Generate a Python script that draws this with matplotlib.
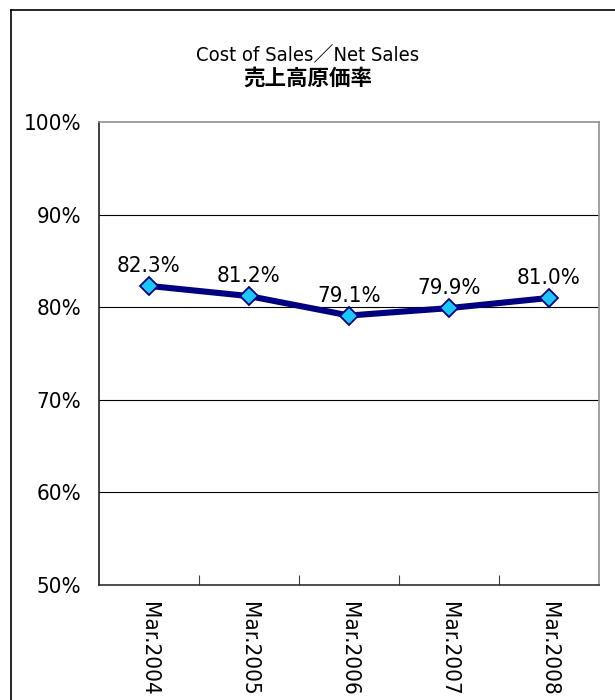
#!/usr/bin/env python3
"""
Cost of Sales / Net Sales ratio chart, Mar.2004 - Mar.2008.
"""

import matplotlib

matplotlib.use("Agg")
import matplotlib.pyplot as plt
from matplotlib.lines import Line2D

periods = ["Mar.2004", "Mar.2005", "Mar.2006", "Mar.2007", "Mar.2008"]
cost_ratio = [82.3, 81.2, 79.1, 79.9, 81.0]
y_ticks = [50, 60, 70, 80, 90, 100]

plt.rcParams["font.family"] = ["DejaVu Sans", "Noto Sans CJK JP"]
plt.rcParams["font.stretch"] = "condensed"


def main() -> None:
    fig = plt.figure(figsize=(6.15, 7.0), dpi=100)

    # outer chart frame
    fig.add_artist(Line2D([11 / 615, 11 / 615], [0, 1 - 10 / 700],
                          transform=fig.transFigure, color="black", lw=1.2))
    fig.add_artist(Line2D([11 / 615, 1], [1 - 10 / 700, 1 - 10 / 700],
                          transform=fig.transFigure, color="black", lw=1.2))

    ax = fig.add_axes([99 / 615, 1 - 585 / 700, 500 / 615, 463 / 700])
    x = list(range(len(periods)))

    ax.plot(x, cost_ratio, "-", color="#000080", lw=4.4, zorder=3,
            marker="D", ms=9.5, mfc="#19C8F5", mec="#000080", mew=1.3)
    for xi, v in zip(x, cost_ratio):
        ax.annotate(f"{v:.1f}%", (xi, v), xytext=(0, 7), textcoords="offset points",
                    ha="center", va="bottom", fontsize=16, zorder=4)

    ax.set_xlim(-0.5, len(periods) - 0.5)
    ax.set_ylim(50, 100)
    ax.set_yticks(y_ticks)
    ax.set_yticklabels([f"{t}%" for t in y_ticks], fontsize=16)
    ax.tick_params(axis="y", length=0, pad=13)

    ax.set_xticks([i + 0.5 for i in x[:-1]])
    ax.set_xticklabels([])
    ax.tick_params(axis="x", which="major", direction="in", length=7, color="#404040")
    ax.set_xticks(x, minor=True)
    ax.set_xticklabels(periods, minor=True, rotation=270, fontsize=16)
    ax.tick_params(axis="x", which="minor", length=0, pad=12)

    for t in y_ticks[1:-1]:
        ax.axhline(t, color="black", lw=0.8, zorder=1)

    ax.spines["left"].set_color("#202020")
    ax.spines["bottom"].set_color("#303030")
    ax.spines["top"].set_color("#909090")
    ax.spines["right"].set_color("#909090")
    for s in ax.spines.values():
        s.set_linewidth(1.2)

    fig.text(0.5, 1 - 55 / 700, "Cost of Sales／Net Sales", ha="center", va="center",
             fontsize=14.5)
    fig.text(0.5, 1 - 78 / 700, "売上高原価率", ha="center", va="center",
             fontsize=15.5, fontweight="bold")

    fig.savefig("out.png", dpi=100)
    plt.close(fig)


if __name__ == "__main__":
    main()
